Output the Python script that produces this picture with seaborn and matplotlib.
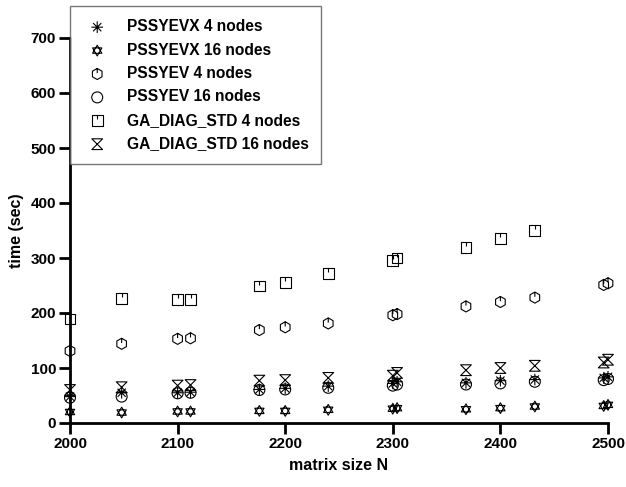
import numpy as np
import matplotlib
matplotlib.use("Agg")
import matplotlib.pyplot as plt
from matplotlib.path import Path
import seaborn as sns

# ---- data ----
sizes = [2000, 2048, 2100, 2112, 2176, 2200, 2240, 2300, 2304, 2368, 2400, 2432, 2496, 2500]
pssyevx_4 = [48, 55, 55, 56, 61, 63, 67, 72, 75, 73, 77, 79, 82, 84]
pssyevx_16 = [20, 19, 21, 21, 22, 22, 24, 26, 27, 25, 27, 30, 31, 33]
pssyev_4 = [131, 144, 153, 154, 169, 174, 181, 196, 198, 212, 220, 228, 251, 254]
pssyev_16 = [46, 48, 54, 55, 60, 61, 64, 68, 70, 70, 72, 75, 78, 80]
ga_sizes = [2000, 2048, 2100, 2112, 2176, 2200, 2240, 2300, 2304, 2368, 2400, 2432]
ga_4 = [189, 227, 224, 225, 249, 255, 272, 296, 300, 319, 335, 350]
ga_16 = [60, 65, 68, 69, 77, 78, 82, 86, 91, 96, 100, 104, 110, 115]

labels = ["PSSYEVX 4 nodes", "PSSYEVX 16 nodes", "PSSYEV 4 nodes",
          "PSSYEV 16 nodes", "GA_DIAG_STD 4 nodes", "GA_DIAG_STD 16 nodes"]
x_ticks = [2000, 2100, 2200, 2300, 2400, 2500]
y_ticks = [0, 100, 200, 300, 400, 500, 600, 700]

# ---- marker shapes ----
M, L, C = Path.MOVETO, Path.LINETO, Path.CLOSEPOLY

def asterisk_path():
    v, c = [], []
    for a in np.arange(4) * np.pi / 4:
        v += [(np.cos(a), np.sin(a)), (-np.cos(a), -np.sin(a))]
        c += [M, L]
    return Path(v, c)

def hexagram_path():
    v, c = [], []
    for off in (90, 270):
        ang = np.deg2rad(off + np.array([0, 120, 240]))
        pts = list(zip(np.cos(ang), np.sin(ang)))
        v += pts + [pts[0]]
        c += [M, L, L, C]
    return Path(v, c)

def hex_line_path():
    ang = np.deg2rad(90 + np.arange(6) * 60)
    pts = list(zip(np.cos(ang), np.sin(ang)))
    v = pts + [pts[0], (0, 1), (0, 0.15)]
    c = [M] + [L] * 5 + [C, M, L]
    return Path(v, c)

def square_line_path():
    v = [(-1, -1), (1, -1), (1, 1), (-1, 1), (-1, -1), (0, 1), (0, 0.25)]
    c = [M, L, L, L, C, M, L]
    return Path(v, c)

def hourglass_path():
    v = [(-1, 1), (1, 1), (-1, -1), (1, -1), (-1, 1)]
    c = [M, L, L, L, C]
    return Path(v, c)

def circle_path():
    return Path.unit_circle()

sns.set_theme(style="white")
plt.rcParams["font.family"] = ["Liberation Sans", "DejaVu Sans"]
plt.rcParams["font.weight"] = "bold"
plt.rcParams["text.color"] = "black"
plt.rcParams["axes.labelcolor"] = "black"
plt.rcParams["xtick.color"] = "black"
plt.rcParams["ytick.color"] = "black"

fig = plt.figure(figsize=(6.26, 4.87), dpi=100)
ax = fig.add_axes([70 / 626, 1 - 423 / 487, 538 / 626, 385 / 487])

series = [
    (sizes, pssyevx_4, asterisk_path(), 70),
    (sizes, pssyevx_16, hexagram_path(), 60),
    (sizes, pssyev_4, hex_line_path(), 64),
    (sizes, pssyev_16, circle_path(), 62),
    (ga_sizes, ga_4, square_line_path(), 60),
    (sizes, ga_16, hourglass_path(), 60),
]
for (xs, ys, mk, s), lab in zip(series, labels):
    sns.scatterplot(x=xs, y=ys, ax=ax, marker=mk, s=s, facecolor="none",
                    edgecolor="black", linewidth=0.8, label=lab, clip_on=False,
                    zorder=3)

ax.set_xlim(2000, 2500)
ax.set_ylim(0, 700)
ax.set_xticks(x_ticks)
ax.set_yticks(y_ticks)
for sp in ("top", "right"):
    ax.spines[sp].set_visible(False)
for sp in ("left", "bottom"):
    ax.spines[sp].set_linewidth(2)
    ax.spines[sp].set_color("black")
ax.tick_params(axis="both", direction="out", length=8, width=2, color="black",
               labelcolor="black", labelsize=11, pad=2, left=True, bottom=True)
for t in ax.get_xticklabels() + ax.get_yticklabels():
    t.set_fontweight("bold")
ax.set_xlabel("matrix size N", fontsize=11.5, fontweight="bold", labelpad=5,
              color="black")
ax.set_ylabel("time (sec)", fontsize=11.5, fontweight="bold", labelpad=5,
              color="black")

leg = ax.legend(loc="upper left", bbox_to_anchor=(0, 1.083, 0.4665, 0.0),
                mode="expand", frameon=True, fancybox=False, fontsize=11.2,
                labelspacing=0.54, handletextpad=1.0, borderpad=0.85,
                handlelength=1.8, borderaxespad=0)
leg.get_frame().set_edgecolor("#555555")
leg.get_frame().set_linewidth(1.0)
for t in leg.get_texts():
    t.set_fontweight("bold")
    t.set_color("black")

fig.savefig("out.png", dpi=100)
